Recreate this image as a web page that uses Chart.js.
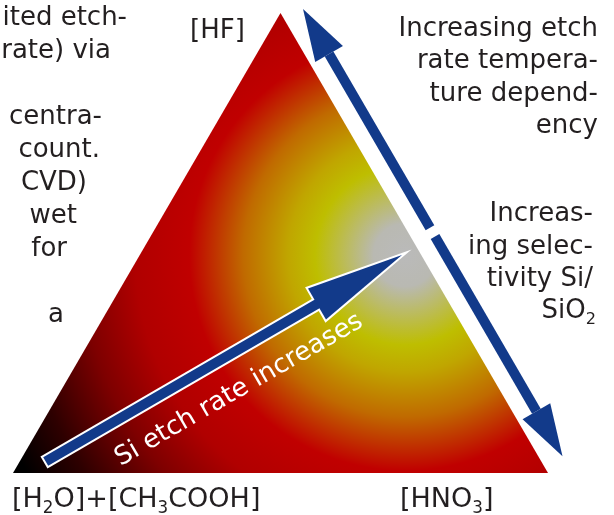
<!DOCTYPE html>
<html><head><meta charset="utf-8">
<script src="https://cdn.jsdelivr.net/npm/chart.js@4.4.1/dist/chart.umd.min.js"></script>
<style>html,body{margin:0;padding:0;background:#fff;overflow:hidden}#wrap{width:614px;height:515px;position:relative}</style>
</head><body><div id="wrap"><canvas id="c"></canvas></div>
<script>
// ---- Ternary corners: fractions of [HF], [HNO3], [H2O]+[CH3COOH] at each vertex
const vertexHF   = [0, 1, 0];
const vertexHNO3 = [0, 0, 1];
const vertexH2O  = [1, 0, 0];

// ---- Arrows (triangle-plane coordinates: x along base, y height)
const siArrowShaft = [{x:0.0692, y:0.0264}, {x:0.5682, y:0.3182}];
const siArrowTip   = {x:0.7271, y:0.4104};
const upArrowShaft = [{x:0.7794, y:0.4616}, {x:0.5908, y:0.7888}];
const upArrowTip   = {x:0.5421, y:0.8735};
const downArrowShaft = [{x:0.7888, y:0.4452}, {x:0.9783, y:0.1163}];
const downArrowTip   = {x:1.0271, y:0.0316};

// ---- centre of the colour field (highest selectivity point)
const fieldCentre = {x:0.7327, y:0.4104};

// ---- texts
const leftLines  = ['ited etch-', 'rate) via', '', 'centra-', 'count.', 'CVD)', 'wet', 'for', '', 'a'];
const rightLines1 = ['Increasing etch', 'rate tempera-', 'ture depend-', 'ency'];
const rightLines2 = ['Increas-', 'ing selec-', 'tivity Si/'];
const siArrowLabel = 'Si etch rate increases';

const S3 = Math.sqrt(3) / 2;
const trianglePts = vertexHF.map((hf, i) => ({x: vertexHNO3[i] + hf / 2, y: hf * S3}));

const BLUE = '#123a8a';
const TEXT = '#231f20';
const FONT = '"DejaVu Sans", Verdana, sans-serif';

function fieldGradient(c) {
  const chart = c.chart;
  if (!chart.chartArea) return 'rgba(0,0,0,0)';
  const xs = chart.scales.x, ys = chart.scales.y;
  const cx = xs.getPixelForValue(fieldCentre.x), cy = ys.getPixelForValue(fieldCentre.y);
  const r = xs.getPixelForValue(fieldCentre.x + 0.84) - cx;
  const g = chart.ctx.createRadialGradient(cx, cy, 0, cx, cy, r);
  g.addColorStop(0.00, '#bababa');
  g.addColorStop(0.07, '#b9b9b2');
  g.addColorStop(0.20, '#bebe00');
  g.addColorStop(0.26, '#c0a600');
  g.addColorStop(0.36, '#c06a00');
  g.addColorStop(0.48, '#c00000');
  g.addColorStop(0.60, '#b00000');
  g.addColorStop(0.72, '#7e0000');
  g.addColorStop(0.86, '#2e0000');
  g.addColorStop(0.97, '#000000');
  return g;
}

function drawHead(ctx, chart, ds, i, mode) {
  const meta = chart.getDatasetMeta(i);
  const pts = meta.data;
  const base = pts[pts.length - 1];
  const xs = chart.scales.x, ys = chart.scales.y;
  const tip = {x: xs.getPixelForValue(ds.head.tip.x), y: ys.getPixelForValue(ds.head.tip.y)};
  const dx = tip.x - base.x, dy = tip.y - base.y, L = Math.hypot(dx, dy);
  const nx = -dy / L, ny = dx / L, hw = ds.head.halfWidth;
  ctx.save();
  ctx.beginPath();
  ctx.moveTo(tip.x, tip.y);
  ctx.lineTo(base.x + nx * hw, base.y + ny * hw);
  ctx.lineTo(base.x - nx * hw, base.y - ny * hw);
  ctx.closePath();
  if (mode === 'outline') {
    ctx.lineJoin = 'miter';
    ctx.lineWidth = ds.head.outline * 2;
    ctx.strokeStyle = '#ffffff';
    ctx.stroke();
  } else {
    ctx.fillStyle = BLUE;
    ctx.fill();
  }
  ctx.restore();
}

const arrowHeads = {
  id: 'arrowHeads',
  afterDatasetDraw(chart, args) {
    if (chart.data.datasets[args.index].id !== 'field') return;
    chart.data.datasets.forEach((ds, i) => { if (ds.head && ds.head.outline) drawHead(chart.ctx, chart, ds, i, 'outline'); });
  },
  afterDatasetsDraw(chart) {
    chart.data.datasets.forEach((ds, i) => { if (ds.head) drawHead(chart.ctx, chart, ds, i, 'fill'); });
  }
};

function richWidth(ctx, parts, size) {
  let w = 0;
  parts.forEach(p => { ctx.font = (p.sub ? size * 0.62 : size) + 'px ' + FONT; w += ctx.measureText(p.t).width; });
  return w;
}
function drawRich(ctx, parts, x, y, size, align) {
  const w = richWidth(ctx, parts, size);
  let cx = align === 'right' ? x - w : x;
  ctx.textAlign = 'left';
  parts.forEach(p => {
    ctx.font = (p.sub ? size * 0.62 : size) + 'px ' + FONT;
    ctx.fillText(p.t, cx, p.sub ? y + size * 0.24 : y);
    cx += ctx.measureText(p.t).width;
  });
}

const cornerText = {hf: '[HF]'};

const texts = {
  id: 'texts',
  afterDraw(chart) {
    const ctx = chart.ctx;
    ctx.save();
    ctx.fillStyle = TEXT;
    ctx.textBaseline = 'alphabetic';
    ctx.font = '26px ' + FONT;
    const leftRight = [127, 111, 0, 102, 100, 87, 77, 67, 0, 64];
    leftLines.forEach((t, k) => { if (!t) return; ctx.textAlign = 'right'; ctx.fillText(t, leftRight[k], 25 + k * 33); });
    ctx.textAlign = 'right';
    rightLines1.forEach((t, k) => ctx.fillText(t, 598, 36 + k * 32.3));
    rightLines2.forEach((t, k) => ctx.fillText(t, 593, 221 + k * 32.5));
    drawRich(ctx, [{t:'SiO'}, {t:'2', sub:true}], 596, 318, 26, 'right');
    // corner labels
    drawRich(ctx, [{t:cornerText.hf}], 190, 38, 26, 'left');
    drawRich(ctx, [{t:'[H'}, {t:'2', sub:true}, {t:'O]+[CH'}, {t:'3', sub:true}, {t:'COOH]'}], 12, 507, 27, 'left');
    drawRich(ctx, [{t:'[HNO'}, {t:'3', sub:true}, {t:']'}], 400, 507, 27, 'left');
    // arrow label
    ctx.fillStyle = '#ffffff';
    ctx.font = '26px ' + FONT;
    ctx.translate(239, 390);
    ctx.rotate(-Math.PI / 6);
    ctx.textAlign = 'center';
    ctx.textBaseline = 'middle';
    ctx.fillText(siArrowLabel, 0, 0);
    ctx.restore();
  }
};

new Chart(document.getElementById('c'), {
  type: 'scatter',
  data: {
    datasets: [
      {id: 'field', data: trianglePts, showLine: true, fill: 'origin', borderWidth: 0, pointRadius: 0,
       backgroundColor: fieldGradient, borderColor: 'rgba(0,0,0,0)', tension: 0, order: 5},
      {id: 'siOutline', data: siArrowShaft, showLine: true, borderColor: '#ffffff', borderWidth: 14,
       borderCapStyle: 'square', pointRadius: 0, order: 3},
      {id: 'siArrow', data: siArrowShaft, showLine: true, borderColor: BLUE, borderWidth: 10,
       borderCapStyle: 'square', pointRadius: 0, order: 2,
       head: {tip: siArrowTip, halfWidth: 18, outline: 2}},
      {id: 'upArrow', data: upArrowShaft, showLine: true, borderColor: BLUE, borderWidth: 10,
       borderCapStyle: 'butt', pointRadius: 0, order: 1,
       head: {tip: upArrowTip, halfWidth: 16}},
      {id: 'downArrow', data: downArrowShaft, showLine: true, borderColor: BLUE, borderWidth: 10,
       borderCapStyle: 'butt', pointRadius: 0, order: 1,
       head: {tip: downArrowTip, halfWidth: 16}}
    ]
  },
  options: {
    responsive: true, maintainAspectRatio: false, animation: false,
    layout: {padding: 0},
    plugins: {legend: {display: false}, tooltip: {enabled: false}},
    elements: {line: {borderJoinStyle: 'miter'}},
    scales: {
      x: {type: 'linear', min: -0.0243, max: 1.12336, display: false},
      y: {type: 'linear', min: -0.07907, max: 0.89047, display: false}
    }
  },
  plugins: [arrowHeads, texts]
});
</script></body></html>
